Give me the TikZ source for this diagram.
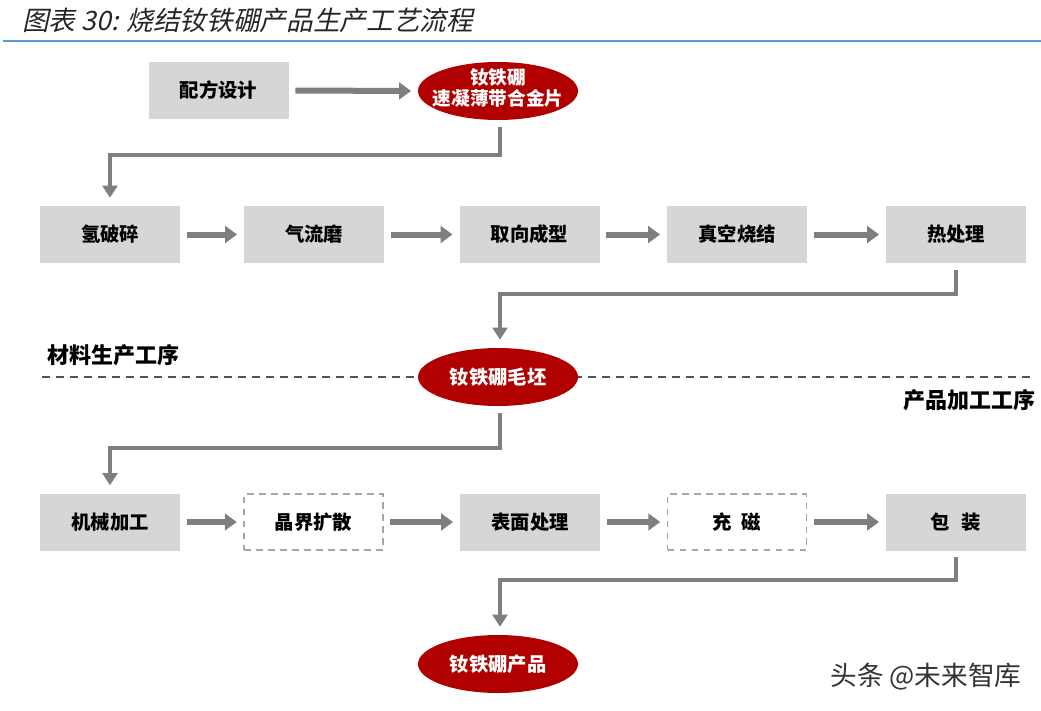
\documentclass[tikz,border=0pt]{standalone}
\usepackage{fontspec}
\usetikzlibrary{shapes.geometric,arrows.meta}
\newfontfamily\cjk{Noto Sans CJK SC}
\newfontfamily\cjkit{Noto Sans CJK SC}[FakeSlant=0.22]
\definecolor{boxgray}{HTML}{D6D6D6}
\definecolor{dashgray}{HTML}{A6A6A6}
\definecolor{ovred}{HTML}{B00000}
\definecolor{arrowgray}{HTML}{7F7F7F}
\definecolor{sepblue}{HTML}{44546A}
\definecolor{rulecol}{HTML}{5B9BD5}
\begin{document}
\begin{tikzpicture}[x=0.75pt,y=-0.75pt,
  box/.style={fill=boxgray, minimum width=105pt, minimum height=42.75pt, inner sep=0pt,
    font=\cjk\bfseries\fontsize{14.5}{17}\selectfont},
  dbox/.style={draw=dashgray, line width=1.1pt, dash pattern=on 5pt off 4pt, fill=white,
    minimum width=104pt, minimum height=42pt, inner sep=0pt,
    font=\cjk\bfseries\fontsize{14.5}{17}\selectfont},
  oval/.style={ellipse, fill=ovred, minimum width=120pt, minimum height=43.5pt, inner sep=0pt},
  olab/.style={text=white, align=center, inner sep=0pt, font=\cjk\bfseries\fontsize{14.5}{16}\selectfont},
  flow/.style={draw=arrowgray, line width=4.5pt, shorten <=5pt, shorten >=5pt,
    -{Triangle[length=9pt,width=12.5pt]}},
  link/.style={draw=arrowgray, line width=3pt, shorten <=5pt, shorten >=6pt,
    -{Triangle[length=9pt,width=11pt]}},
  lab/.style={font=\cjk\bfseries\fontsize{16.5}{19}\selectfont, inner sep=0pt}
]
\useasboundingbox (0,0) rectangle (1041,710);
% title
\node[anchor=west, inner sep=0pt, font=\cjkit\fontsize{20}{24}\selectfont, text=black!85] (title) at (22,20) {图表 30: 烧结钕铁硼产品生产工艺流程};
\coordinate (rl) at (3,41);
\coordinate (rr) at (1041,41);
\draw[rulecol, line width=1.6pt] (rl) -- (rr);

% separator
\coordinate (sl) at (42,377);
\coordinate (sr) at (1032,377);
\draw[sepblue, line width=2pt, dash pattern=on 6pt off 4.5pt] (sl) -- (sr);

% top
\node[box] (p) at (218.5,90.5) {配方设计};
\node[oval, label={[olab, yshift=2.5pt, font=\cjk\bfseries\fontsize{14}{15.5}\selectfont]center:{钕铁硼\\速凝薄带合金片}}] (e1) at (498,91) {};

% row 1
\node[box] (h1) at (110,234.5) {氢破碎};
\node[box] (h2) at (314,234.5) {气流磨};
\node[box] (h3) at (529.5,234.5) {取向成型};
\node[box] (h4) at (737,234.5) {真空烧结};
\node[box] (h5) at (956,234.5) {热处理};

\node[oval, label={[olab]center:钕铁硼毛坯}] (e2) at (498,377) {};

\node[lab, anchor=west] (l1) at (47,355) {材料生产工序};
\node[lab, anchor=east] (l2) at (1036,400) {产品加工工序};

% row 2
\node[box] (m1) at (110,522) {机械加工};
\node[dbox] (m2) at (313.5,522) {晶界扩散};
\node[box] (m3) at (530,522) {表面处理};
\node[dbox] (m4) at (737,522) {充\hspace{0.5em}磁};
\node[box] (m5) at (956,522) {包\hspace{0.6em}装};

\node[oval, label={[olab]center:钕铁硼产品}] (e3) at (498,664) {};

\node[inner sep=0pt, font=\cjk\fontsize{20}{23}\selectfont, text=black!80] (wm) at (926,677) {头条 @未来智库};

% arrows
\draw[flow] (p.east) -- (e1.west);
\draw[flow] (h1) -- (h2);
\draw[flow] (h2) -- (h3);
\draw[flow] (h3) -- (h4);
\draw[flow] (h4) -- (h5);
\draw[flow] (m1) -- (m2);
\draw[flow] (m2) -- (m3);
\draw[flow] (m3) -- (m4);
\draw[flow] (m4) -- (m5);

% connectors
\draw[link] ([xshift=1.5pt]e1.south) -- ++(0,35) -| (h1.north);
\draw[link] (h5.south) -- ++(0,31) -| ([xshift=1.5pt]e2.north);
\draw[link] ([xshift=1.5pt]e2.south) -- ++(0,42) -| (m1.north);
\draw[link] (m5.south) -- ++(0,29) -| ([xshift=1.5pt]e3.north);
\end{tikzpicture}
\end{document}
